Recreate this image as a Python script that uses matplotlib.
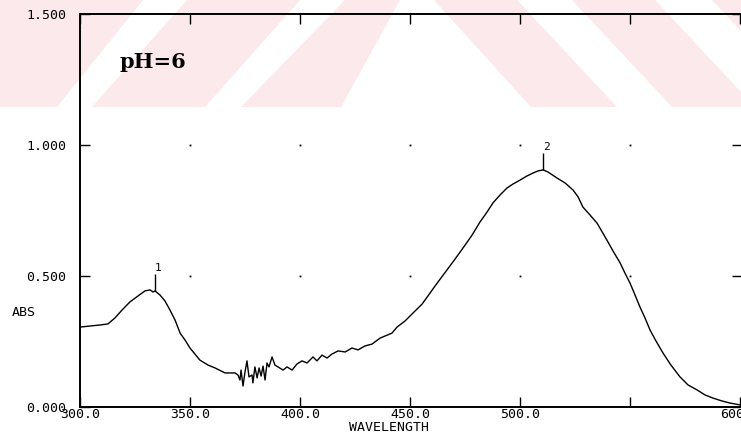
import matplotlib
matplotlib.use("Agg")
import matplotlib.pyplot as plt
import matplotlib.patches as mpatches
import numpy as np

# spectrum (nm, absorbance)
wavelength = [300.0, 304.5, 309.1, 312.7, 315.9, 319.1, 322.7, 326.4, 329.5, 331.8,
              333.2, 334.1, 336.4, 338.6, 340.9, 343.2, 345.5, 347.7, 350.0, 354.5,
              358.2, 361.4, 365.9, 370.5,
              371.8, 372.7, 373.2, 374.1, 375.0, 375.9, 376.8, 378.2, 378.6, 379.5,
              380.5, 381.4, 382.3, 383.2, 384.1, 385.0, 385.9, 387.3, 388.6, 390.0,
              392.3, 394.1, 396.4, 398.6, 400.9, 403.2, 405.9, 407.7, 410.0, 412.3,
              414.5, 417.3, 420.5, 423.6, 426.4, 429.5, 432.7,
              436.4, 441.8, 444.1, 447.7, 451.4, 455.5, 459.1, 462.7, 466.8, 470.5,
              474.1, 478.2, 481.8, 485.0, 487.7, 490.9, 494.1, 496.8, 500.0, 503.2,
              505.9, 508.2, 510.5, 512.7, 516.8, 520.5, 524.1, 526.4, 528.6, 531.8,
              535.0, 539.5, 542.3, 545.5, 547.7, 550.0, 552.3, 554.5, 556.8, 559.1,
              561.8, 565.0, 568.6, 572.7, 576.4, 580.5, 584.1, 587.7, 591.8, 595.5,
              600.0]
absorbance = [0.305, 0.309, 0.313, 0.317, 0.340, 0.370, 0.401, 0.424, 0.443, 0.447,
              0.439, 0.443, 0.427, 0.405, 0.370, 0.332, 0.282, 0.256, 0.225, 0.179,
              0.160, 0.149, 0.130, 0.130,
              0.122, 0.103, 0.141, 0.080, 0.134, 0.176, 0.115, 0.122, 0.092, 0.153,
              0.111, 0.149, 0.118, 0.156, 0.103, 0.168, 0.153, 0.191, 0.160, 0.153,
              0.141, 0.153, 0.141, 0.164, 0.176, 0.168, 0.191, 0.176, 0.198, 0.187,
              0.202, 0.214, 0.210, 0.225, 0.218, 0.233, 0.240,
              0.263, 0.282, 0.305, 0.328, 0.359, 0.393, 0.435, 0.477, 0.523, 0.565,
              0.607, 0.656, 0.706, 0.744, 0.779, 0.809, 0.836, 0.851, 0.866, 0.882,
              0.893, 0.901, 0.905, 0.897, 0.874, 0.855, 0.828, 0.802, 0.763, 0.733,
              0.702, 0.637, 0.595, 0.550, 0.511, 0.473, 0.427, 0.382, 0.340, 0.294,
              0.252, 0.206, 0.160, 0.115, 0.084, 0.065, 0.046, 0.034, 0.023, 0.015,
              0.008]

peak_positions = [334.1, 510.5]
peak_labels = ["1", "2"]

x_ticks = [300, 350, 400, 450, 500, 550, 600]
x_ticklabels = ["300.0", "350.0", "400.0", "450.0", "500.0", "", "600.0"]
y_ticks = [0.0, 0.5, 1.0, 1.5]
y_ticklabels = ["0.000", "0.500", "1.000", "1.500"]

W, H = 741, 436
MONO = "DejaVu Sans Mono"
PINK = "#fce9ec"


def px(x, y):
    """ Pixel position (top-left origin) to figure fraction. """
    return (x / W, 1 - y / H)


def draw_watermark(fig):
    """ Faint diagonal band watermark across the top of the scan. """
    bands = [
        [(0, 0), (143, 0), (57, 107), (0, 107)],
        [(187, 0), (300, 0), (205, 107), (92, 107)],
        [(345, 0), (400, 0), (341, 107), (241, 107)],
        [(434, 0), (517, 0), (617, 107), (531, 107)],
        [(572, 0), (655, 0), (755, 107), (672, 107)],
        [(712, 0), (800, 0), (800, 107), (812, 107)],
    ]
    for band in bands:
        fig.patches.append(mpatches.Polygon([px(*p) for p in band], closed=True,
                                            transform=fig.transFigure,
                                            facecolor=PINK, edgecolor="none",
                                            zorder=-5))


def plot_spectrum():
    fig = plt.figure(figsize=(W / 100, H / 100), dpi=100)
    draw_watermark(fig)
    ax = fig.add_axes([80 / W, 1 - 407 / H, 662 / W, 393 / H])
    ax.patch.set_alpha(0)

    ax.plot(wavelength, absorbance, color="black", lw=1.0, zorder=3)

    # peak markers
    for pos, lab in zip(peak_positions, peak_labels):
        val = np.interp(pos, wavelength, absorbance)
        ax.vlines(pos, val, val + 0.065, color="black", lw=1.0)
        ax.text(pos + 1.5, val + 0.07, lab, family=MONO, fontsize=8,
                ha="center", va="bottom")

    # dotted grid intersections
    gx, gy = np.meshgrid(x_ticks[1:-1], y_ticks[1:-1])
    ax.plot(gx.ravel(), gy.ravel(), ls="none", marker="s", ms=1.3,
            color="black", mew=0)

    ax.set_xlim(300, 600.9)
    ax.set_ylim(0, 1.5)
    ax.set_xticks(x_ticks)
    ax.set_xticklabels(x_ticklabels, family=MONO, fontsize=9.5)
    ax.set_yticks(y_ticks)
    ax.set_yticklabels(y_ticklabels, family=MONO, fontsize=9.5)
    ax.tick_params(direction="in", length=7, width=1.0,
                   top=True, right=True)
    ax.tick_params(axis="x", pad=1)
    ax.tick_params(axis="y", pad=10)
    for side in ["left", "bottom", "top"]:
        ax.spines[side].set_linewidth(1.4)
    ax.spines["right"].set_visible(False)

    fig.text(*px(120, 62), "pH=6", family="DejaVu Serif", fontsize=15,
             fontweight="bold", va="center", ha="left")
    fig.text(*px(12, 312), "ABS", family=MONO, fontsize=9.5, va="center")
    fig.text(*px(389, 427), "WAVELENGTH", family=MONO, fontsize=9.5,
             ha="center", va="center")
    return fig


fig = plot_spectrum()
fig.savefig("out.png", dpi=100)
